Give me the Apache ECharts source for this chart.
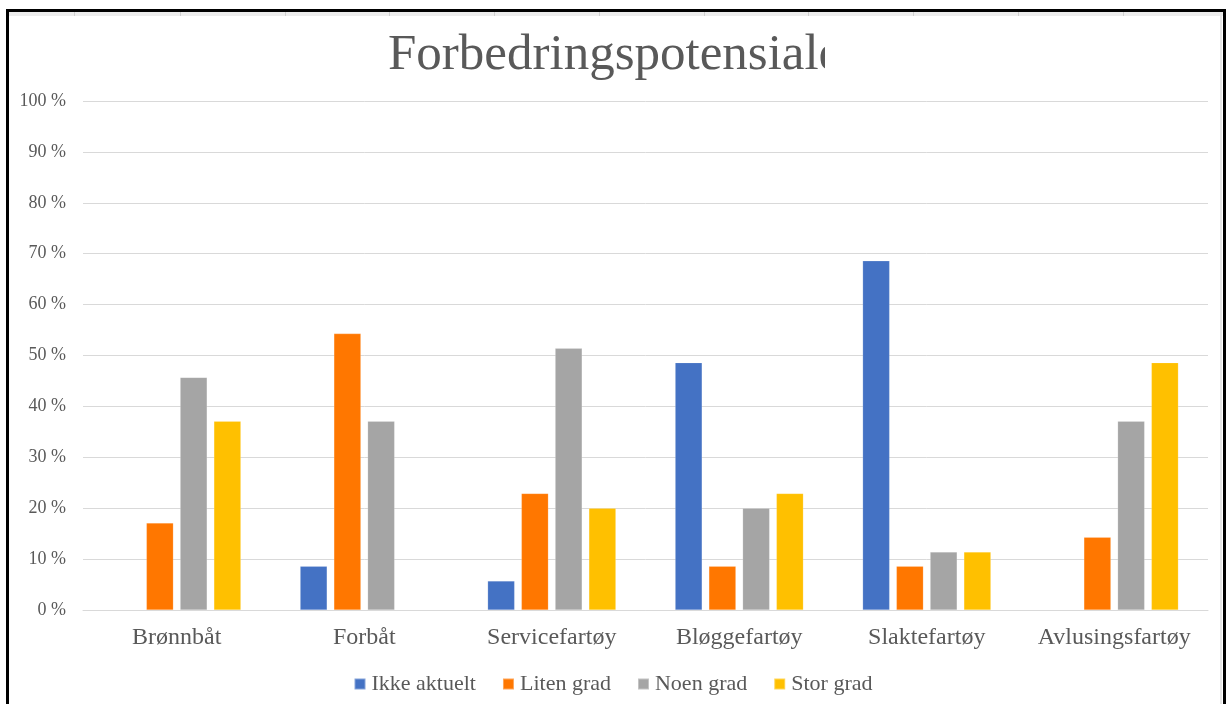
<!DOCTYPE html>
<html>
<head>
<meta charset="utf-8">
<title>Forbedringspotensiale</title>
<script src="https://cdn.jsdelivr.net/npm/echarts@6/dist/echarts.min.js"></script>
<style>
  html, body { margin: 0; padding: 0; background: #ffffff; }
  #chart { width: 1226px; height: 704px; }
</style>
</head>
<body>
<div id="chart"></div>
<script>
// Vessel types (x-axis categories)
const categories = ['Brønnbåt', 'Forbåt', 'Servicefartøy', 'Bløggefartøy', 'Slaktefartøy', 'Avlusingsfartøy'];

// Share of answers per vessel type, in percent (null = no bar)
const ikkeAktuelt = [null, 8.6, 5.7, 48.6, 68.6, null];
const litenGrad   = [17.1, 54.3, 22.9, 8.6, 8.6, 14.3];
const noenGrad    = [45.7, 37.1, 51.4, 20.0, 11.4, 37.1];
const storGrad    = [37.1, null, 20.0, 22.9, 11.4, 48.6];

const seriesNames = ['Ikke aktuelt', 'Liten grad', 'Noen grad', 'Stor grad'];
const seriesData  = [ikkeAktuelt, litenGrad, noenGrad, storGrad];
const seriesColors = ['#4472C4', '#FF7700', '#A5A5A5', '#FFC000'];

const FONT = '"Liberation Serif", "DejaVu Serif", serif';
const TEXT = '#595959';

const chart = echarts.init(document.getElementById('chart'), null, { renderer: 'canvas' });

// Light spreadsheet column marks in the strip under the top frame
const cellMarks = [74, 180, 285, 389, 494, 599, 704, 808, 913, 1018, 1123].map(x => ({
  type: 'rect', silent: true, z: 101,
  shape: { x: x, y: 12, width: 1, height: 4 },
  style: { fill: '#cfcfcf' }
}));

chart.setOption({
  animation: false,
  backgroundColor: '#ffffff',
  textStyle: { fontFamily: FONT },
  grid: { left: 83, right: 18, top: 101, bottom: 94, containLabel: false },
  xAxis: {
    type: 'category',
    data: categories,
    axisLine: { show: true, lineStyle: { color: '#D9D9D9', width: 1 } },
    axisTick: { show: false },
    axisLabel: { color: TEXT, fontFamily: FONT, fontSize: 24, margin: 16, interval: 0 }
  },
  yAxis: {
    type: 'value',
    min: 0, max: 100, interval: 10,
    axisLine: { show: false },
    axisTick: { show: false },
    splitLine: { lineStyle: { color: '#D9D9D9', width: 1 } },
    axisLabel: { color: TEXT, fontFamily: FONT, fontSize: 18, margin: 17, formatter: '{value} %' }
  },
  legend: {
    data: seriesNames,
    top: 668,
    left: 'center',
    itemWidth: 11, itemHeight: 11, itemGap: 26,
    icon: 'rect',
    textStyle: { color: TEXT, fontFamily: FONT, fontSize: 22, padding: [0, 0, 0, 1] }
  },
  graphic: [
    // Title, drawn in full and trimmed at the right
    {
      type: 'text', z: 50, silent: true,
      left: 388, top: 30,
      style: { text: 'Forbedringspotensiale', font: '51px ' + FONT, fill: TEXT }
    },
    {
      type: 'rect', z: 60, silent: true,
      shape: { x: 825, y: 20, width: 40, height: 70 },
      style: { fill: '#ffffff' }
    },
    // Frame around the chart
    { type: 'rect', z: 100, silent: true, shape: { x: 6, y: 12, width: 1220, height: 4 }, style: { fill: '#ececec' } },
    { type: 'rect', z: 100, silent: true, shape: { x: 1220, y: 12, width: 2, height: 692 }, style: { fill: '#e6e6e6' } },
    { type: 'rect', z: 102, silent: true, shape: { x: 6, y: 9, width: 1220, height: 3 }, style: { fill: '#000000' } },
    { type: 'rect', z: 102, silent: true, shape: { x: 6, y: 9, width: 3, height: 695 }, style: { fill: '#000000' } },
    { type: 'rect', z: 102, silent: true, shape: { x: 1223, y: 9, width: 3, height: 695 }, style: { fill: '#000000' } }
  ].concat(cellMarks),
  series: seriesNames.map((name, i) => ({
    name: name,
    type: 'bar',
    data: seriesData[i],
    barWidth: 27,
    barGap: '25%',
    itemStyle: { color: seriesColors[i], borderColor: 'rgba(255,255,255,0.35)', borderWidth: 0.5 }
  }))
});
</script>
</body>
</html>
